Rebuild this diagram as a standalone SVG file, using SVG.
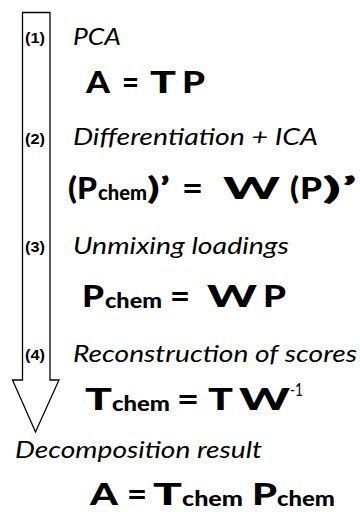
<svg xmlns="http://www.w3.org/2000/svg" width="360" height="512" viewBox="0 0 360 512">
<style>
.lab{font-family:"Lato","Open Sans",sans-serif;font-style:italic;font-size:24px;fill:#000}
.num{font-family:"Liberation Sans",Arial,sans-serif;font-weight:bold;font-size:15px;fill:#000}
.eq{font-family:"Lato","DejaVu Sans",sans-serif;font-weight:900;font-size:30px;fill:#000}
.sub{font-family:"Lato","DejaVu Sans",sans-serif;font-weight:900;font-size:20px;fill:#000}
.sup{font-family:"Lato","DejaVu Sans",sans-serif;font-weight:400;font-size:17px;fill:#000}
</style>
<rect width="360" height="512" fill="#fff"/>
<g id="connectors">
<polygon points="22.5,12.5 50,12.5 50,380 59,380 35.5,432 12.5,380 22.5,380" fill="#fff" stroke="#000" stroke-width="1.3" stroke-linejoin="miter"/>
</g>
<g id="step1">
<text class="num" x="25" y="43" textLength="20" lengthAdjust="spacingAndGlyphs">(1)</text>
<text class="lab" x="73" y="45" textLength="48" lengthAdjust="spacingAndGlyphs">PCA</text>
<text class="eq" x="86" y="93" textLength="24" lengthAdjust="spacingAndGlyphs">A</text>
<text class="eq" x="122" y="93" textLength="17" lengthAdjust="spacingAndGlyphs">=</text>
<text class="eq" x="150" y="93" textLength="26" lengthAdjust="spacingAndGlyphs">T</text>
<text class="eq" x="182" y="93" textLength="23" lengthAdjust="spacingAndGlyphs">P</text>
</g>
<g id="step2">
<text class="num" x="25" y="144" textLength="20" lengthAdjust="spacingAndGlyphs">(2)</text>
<text class="lab" x="73" y="145" textLength="245" lengthAdjust="spacingAndGlyphs">Differentiation + ICA</text>
<text class="eq" x="68" y="199" textLength="9" lengthAdjust="spacingAndGlyphs">(</text>
<text class="eq" x="77" y="199" textLength="20" lengthAdjust="spacingAndGlyphs">P</text>
<text class="sub" x="98" y="200" textLength="49" lengthAdjust="spacingAndGlyphs">chem</text>
<text class="eq" x="147" y="199" textLength="23" lengthAdjust="spacingAndGlyphs">)’</text>
<text class="eq" x="182" y="199" textLength="21" lengthAdjust="spacingAndGlyphs">=</text>
<text class="eq" x="223" y="199" textLength="57" lengthAdjust="spacingAndGlyphs">W</text>
<text class="eq" x="290" y="199" textLength="9" lengthAdjust="spacingAndGlyphs">(</text>
<text class="eq" x="300" y="199" textLength="22" lengthAdjust="spacingAndGlyphs">P</text>
<text class="eq" x="322" y="199" textLength="35" lengthAdjust="spacingAndGlyphs">)’</text>
</g>
<g id="step3">
<text class="num" x="25" y="252" textLength="20" lengthAdjust="spacingAndGlyphs">(3)</text>
<text class="lab" x="73" y="254" textLength="216" lengthAdjust="spacingAndGlyphs">Unmixing loadings</text>
<text class="eq" x="82" y="307" textLength="22" lengthAdjust="spacingAndGlyphs">P</text>
<text class="sub" x="105" y="308" textLength="57" lengthAdjust="spacingAndGlyphs">chem</text>
<text class="eq" x="170" y="307" textLength="20" lengthAdjust="spacingAndGlyphs">=</text>
<text class="eq" x="207" y="307" textLength="50" lengthAdjust="spacingAndGlyphs">W</text>
<text class="eq" x="263" y="307" textLength="23" lengthAdjust="spacingAndGlyphs">P</text>
</g>
<g id="step4">
<text class="num" x="25" y="360" textLength="20" lengthAdjust="spacingAndGlyphs">(4)</text>
<text class="lab" x="73" y="362" textLength="284" lengthAdjust="spacingAndGlyphs">Reconstruction of scores</text>
<text class="eq" x="85" y="410" textLength="27" lengthAdjust="spacingAndGlyphs">T</text>
<text class="sub" x="112" y="411" textLength="58" lengthAdjust="spacingAndGlyphs">chem</text>
<text class="eq" x="177" y="410" textLength="22" lengthAdjust="spacingAndGlyphs">=</text>
<text class="eq" x="208" y="410" textLength="25" lengthAdjust="spacingAndGlyphs">T</text>
<text class="eq" x="239" y="410" textLength="51" lengthAdjust="spacingAndGlyphs">W</text>
<text class="sup" x="290" y="396" textLength="13" lengthAdjust="spacingAndGlyphs">-1</text>
</g>
<g id="result">
<text class="lab" x="15" y="458" textLength="247" lengthAdjust="spacingAndGlyphs">Decomposition result</text>
<text class="eq" x="90" y="505" textLength="28" lengthAdjust="spacingAndGlyphs">A</text>
<text class="eq" x="127" y="505" textLength="20" lengthAdjust="spacingAndGlyphs">=</text>
<text class="eq" x="153" y="505" textLength="29" lengthAdjust="spacingAndGlyphs">T</text>
<text class="sub" x="182" y="506" textLength="61" lengthAdjust="spacingAndGlyphs">chem</text>
<text class="eq" x="252" y="505" textLength="25" lengthAdjust="spacingAndGlyphs">P</text>
<text class="sub" x="277" y="506" textLength="58" lengthAdjust="spacingAndGlyphs">chem</text>
</g>
</svg>
